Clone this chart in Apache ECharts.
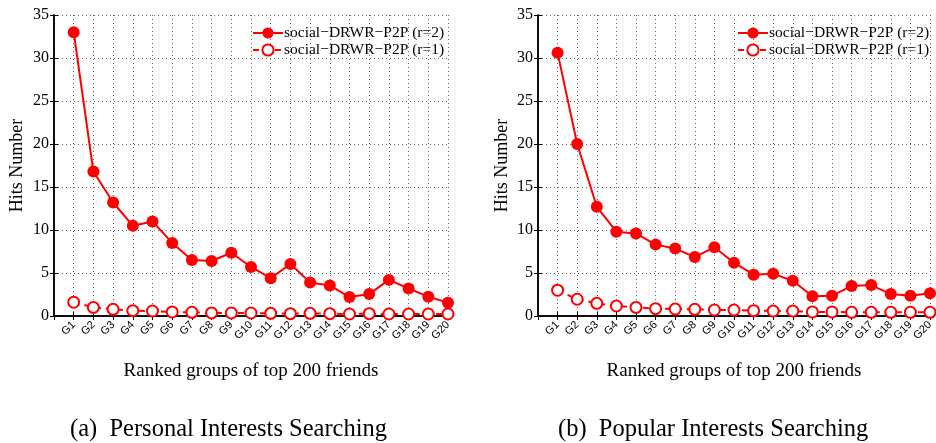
<!DOCTYPE html>
<html>
<head>
<meta charset="utf-8">
<script src="https://cdn.jsdelivr.net/npm/echarts@6/dist/echarts.min.js"></script>
<style>
html,body{margin:0;padding:0;background:#fff;}
#chart{width:936px;height:443px;}
</style>
</head>
<body>
<div id="chart"></div>
<script>
var categories = ['G1','G2','G3','G4','G5','G6','G7','G8','G9','G10','G11','G12','G13','G14','G15','G16','G17','G18','G19','G20'];
var yTicks = [0,5,10,15,20,25,30,35];
var seriesNameR2 = 'social\u2212DRWR\u2212P2P (r=2)';
var seriesNameR1 = 'social\u2212DRWR\u2212P2P (r=1)';

// (a) Personal Interests Searching
var personalR2 = [33.0,16.8,13.2,10.5,11.0,8.5,6.5,6.4,7.35,5.7,4.4,6.05,3.9,3.55,2.2,2.55,4.2,3.2,2.25,1.55];
var personalR1 = [1.6,1.0,0.78,0.62,0.58,0.47,0.43,0.36,0.35,0.35,0.31,0.27,0.31,0.27,0.23,0.27,0.23,0.23,0.23,0.23];
// (b) Popular Interests Searching
var popularR2 = [30.6,20.0,12.7,9.8,9.6,8.3,7.85,6.85,8.0,6.2,4.8,4.9,4.1,2.3,2.35,3.5,3.6,2.55,2.35,2.65];
var popularR1 = [3.0,1.95,1.47,1.16,1.0,0.85,0.81,0.78,0.7,0.7,0.62,0.58,0.58,0.47,0.47,0.43,0.43,0.43,0.43,0.43];

var xAxisTitle = 'Ranked groups of top 200 friends';
var yAxisTitle = 'Hits Number';
var captions = ['(a)  Personal Interests Searching', '(b)  Popular Interests Searching'];

var RED = '#ff0000';
var SERIF = '"Liberation Serif", "Times New Roman", serif';
var SANS = '"Liberation Sans", Arial, sans-serif';

function pairs(arr){ return arr.map(function(v,i){ return [i+1, v]; }); }

var grids = [
  {left:54, top:15, width:394, height:301},
  {left:538, top:15, width:395, height:301}
];

function bottomX(gi){
  return {
    type:'value', gridIndex:gi, position:'bottom', min:0, max:20, interval:1,
    name:xAxisTitle, nameLocation:'middle', nameGap:55,
    nameTextStyle:{fontFamily:SERIF, fontSize:19, color:'#000', verticalAlign:'middle'},
    axisLine:{show:true, lineStyle:{color:'#000', width:1.5}},
    axisTick:{show:true, inside:true, length:4, lineStyle:{color:'#000'}},
    axisLabel:{show:true, rotate:45, margin:7, fontFamily:SANS, fontSize:11, color:'#000',
      formatter:function(v){ return v>=1 && v<=categories.length ? categories[v-1] : ''; }},
    splitLine:{show:true, lineStyle:{color:'#666', type:[1,3], width:1}}
  };
}
function topX(gi){
  return {
    type:'value', gridIndex:gi, position:'top', min:0, max:20, interval:1,
    axisLine:{show:true, lineStyle:{color:'#000', width:1.5}},
    axisTick:{show:true, inside:true, length:4, lineStyle:{color:'#000'}},
    axisLabel:{show:false}, splitLine:{show:false}
  };
}
function leftY(gi, gap){
  return {
    type:'value', gridIndex:gi, position:'left', min:yTicks[0], max:yTicks[yTicks.length-1], interval:5,
    name:yAxisTitle, nameLocation:'middle', nameGap:gap,
    nameTextStyle:{fontFamily:SERIF, fontSize:18, color:'#000'},
    axisLine:{show:true, lineStyle:{color:'#000', width:1.5}},
    axisTick:{show:true, inside:true, length:4, lineStyle:{color:'#000'}},
    axisLabel:{show:true, margin:5, fontFamily:SERIF, fontSize:16, color:'#000'},
    splitLine:{show:true, lineStyle:{color:'#666', type:[1,3], width:1}}
  };
}
function rightY(gi){
  return {
    type:'value', gridIndex:gi, position:'right', min:0, max:35, interval:5,
    axisLine:{show:true, lineStyle:{color:'#000', width:1.5}},
    axisTick:{show:true, inside:true, length:4, lineStyle:{color:'#000'}},
    axisLabel:{show:false}, splitLine:{show:false}
  };
}

function solidSeries(gi, data){
  return {
    name:seriesNameR2, type:'line', xAxisIndex:gi*2, yAxisIndex:gi*2, data:pairs(data),
    symbol:'circle', symbolSize:12, z:3,
    lineStyle:{color:RED, width:2},
    itemStyle:{color:RED, borderColor:RED, borderWidth:0}
  };
}
function openSeries(gi, data){
  return {
    name:seriesNameR1, type:'line', xAxisIndex:gi*2, yAxisIndex:gi*2, data:pairs(data),
    symbol:'circle', symbolSize:11, showAllSymbol:true, z:2,
    lineStyle:{color:RED, width:2, type:[6,5]},
    itemStyle:{color:'#fff', borderColor:RED, borderWidth:2}
  };
}

function legend(left){
  return {
    left:left, top:20, orient:'vertical', itemGap:1, itemWidth:30, itemHeight:14,
    data:[seriesNameR2, seriesNameR1],
    textStyle:{fontFamily:SERIF, fontSize:15.5, color:'#000', padding:[0,0,0,-4]},
    selectedMode:false
  };
}

var option = {
  backgroundColor:'#fff',
  animation:false,
  grid:grids.map(function(g){ return Object.assign({containLabel:false, show:false}, g); }),
  xAxis:[bottomX(0), topX(0), bottomX(1), topX(1)],
  yAxis:[leftY(0, 28), rightY(0), leftY(1, 27), rightY(1)],
  legend:[legend(247), legend(732)],
  series:[
    solidSeries(0, personalR2), openSeries(0, personalR1),
    solidSeries(1, popularR2), openSeries(1, popularR1)
  ],
  graphic:[
    {type:'text', left:70, top:417, style:{text:captions[0], font:'24.5px ' + SERIF, fill:'#000'}},
    {type:'text', left:558, top:417, style:{text:captions[1], font:'24.5px ' + SERIF, fill:'#000'}}
  ]
};
option.xAxis[1].gridIndex = 0; option.xAxis[3].gridIndex = 1;
option.yAxis[1].gridIndex = 0; option.yAxis[3].gridIndex = 1;

var chart = echarts.init(document.getElementById('chart'), null, {renderer:'canvas'});
chart.setOption(option);
</script>
</body>
</html>
